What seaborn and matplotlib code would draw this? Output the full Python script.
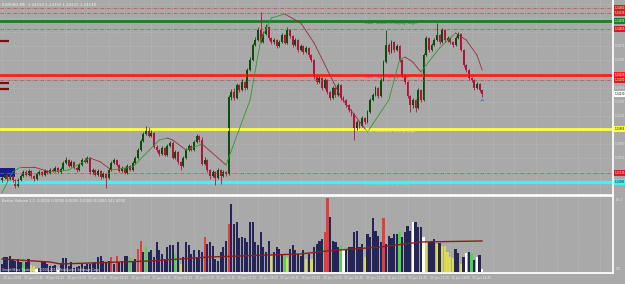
import numpy as np
import pandas as pd
import seaborn as sns
import matplotlib
matplotlib.use("Agg")
import matplotlib.pyplot as plt
from matplotlib.transforms import blended_transform_factory

BG = "#a9a9a9"
UP = "#0b4d0b"
DN = "#b3123a"

sns.set_theme(style="dark", rc={"axes.facecolor": BG, "figure.facecolor": BG})
plt.rcParams['font.family'] = ['DejaVu Sans']

# ---- data ----
title_text = "EURUSD,M5  1.24150 1.24155 1.24115 1.24130"
volume_title = "Better Volume 1.1  0.0000 0.0000 0.0000 0.0000 0.0000 141.0000"
footer_text = "SmoothBars Trader 4, (C) 2001-2014 MetaQuotes Software Corp."

first_open = 1.23700
close = [1.23710, 1.23725, 1.23705, 1.23720, 1.23700, 1.23670, 1.23700, 1.23720, 1.23740, 1.23725,
         1.23745, 1.23720, 1.23705, 1.23730, 1.23740, 1.23725, 1.23745, 1.23735, 1.23750, 1.23745,
         1.23760, 1.23740, 1.23755, 1.23785, 1.23800, 1.23770, 1.23790, 1.23760, 1.23750, 1.23775,
         1.23800, 1.23790, 1.23810, 1.23740, 1.23750, 1.23725, 1.23745, 1.23715, 1.23730, 1.23710,
         1.23750, 1.23785, 1.23800, 1.23775, 1.23745, 1.23760, 1.23735, 1.23770, 1.23750, 1.23785,
         1.23810, 1.23850, 1.23895, 1.23930, 1.23955, 1.23920, 1.23935, 1.23865, 1.23850, 1.23830,
         1.23860, 1.23825, 1.23870, 1.23885, 1.23810, 1.23840, 1.23790, 1.23770, 1.23810, 1.23850,
         1.23870, 1.23850, 1.23890, 1.23920, 1.23900, 1.23780, 1.23800, 1.23750, 1.23720, 1.23740,
         1.23710, 1.23750, 1.23720, 1.23740, 1.23730, 1.24115, 1.24140, 1.24110, 1.24175, 1.24150,
         1.24190, 1.24160, 1.24250, 1.24300, 1.24375, 1.24400, 1.24450, 1.24390, 1.24430, 1.24465,
         1.24410, 1.24390, 1.24400, 1.24370, 1.24390, 1.24425, 1.24385, 1.24450, 1.24420, 1.24375,
         1.24400, 1.24350, 1.24370, 1.24340, 1.24360, 1.24325, 1.24300, 1.24215, 1.24190, 1.24210,
         1.24160, 1.24200, 1.24140, 1.24110, 1.24160, 1.24125, 1.24175, 1.24110, 1.24100, 1.24075,
         1.24050, 1.24030, 1.23960, 1.23990, 1.23970, 1.24010, 1.23990, 1.24040, 1.24100, 1.24125,
         1.24160, 1.24120, 1.24200, 1.24290, 1.24375, 1.24340, 1.24390, 1.24350, 1.24370, 1.24300,
         1.24225, 1.24190, 1.24120, 1.24075, 1.24100, 1.24060, 1.24150, 1.24100, 1.24325, 1.24410,
         1.24350, 1.24375, 1.24400, 1.24425, 1.24390, 1.24450, 1.24400, 1.24410, 1.24390, 1.24375,
         1.24410, 1.24430, 1.24350, 1.24275, 1.24250, 1.24210, 1.24200, 1.24160, 1.24180, 1.24150,
         1.24130]
high = [1.23720, 1.23735, 1.23730, 1.23730, 1.23725, 1.23705, 1.23710, 1.23730, 1.23750, 1.23750,
        1.23755, 1.23750, 1.23725, 1.23740, 1.23750, 1.23745, 1.23755, 1.23750, 1.23760, 1.23760,
        1.23770, 1.23765, 1.23765, 1.23795, 1.23815, 1.23805, 1.23800, 1.23795, 1.23765, 1.23785,
        1.23810, 1.23810, 1.23820, 1.23815, 1.23760, 1.23755, 1.23755, 1.23750, 1.23740, 1.23735,
        1.23760, 1.23795, 1.23810, 1.23805, 1.23780, 1.23770, 1.23765, 1.23780, 1.23775, 1.23795,
        1.23820, 1.23860, 1.23905, 1.23940, 1.23970, 1.23965, 1.23950, 1.23940, 1.23875, 1.23855,
        1.23870, 1.23865, 1.23880, 1.23895, 1.23895, 1.23850, 1.23845, 1.23795, 1.23820, 1.23860,
        1.23880, 1.23875, 1.23900, 1.23930, 1.23925, 1.23915, 1.23815, 1.23805, 1.23755, 1.23750,
        1.23745, 1.23760, 1.23755, 1.23750, 1.23745, 1.24125, 1.24155, 1.24160, 1.24185, 1.24180,
        1.24205, 1.24195, 1.24260, 1.24315, 1.24385, 1.24415, 1.24465, 1.24540, 1.24445, 1.24480,
        1.24470, 1.24415, 1.24410, 1.24405, 1.24400, 1.24435, 1.24430, 1.24465, 1.24455, 1.24425,
        1.24410, 1.24405, 1.24380, 1.24375, 1.24370, 1.24365, 1.24330, 1.24305, 1.24220, 1.24220,
        1.24215, 1.24210, 1.24205, 1.24145, 1.24170, 1.24165, 1.24185, 1.24180, 1.24120, 1.24105,
        1.24080, 1.24055, 1.24035, 1.24000, 1.23995, 1.24020, 1.24015, 1.24050, 1.24110, 1.24135,
        1.24170, 1.24165, 1.24210, 1.24300, 1.24450, 1.24385, 1.24400, 1.24395, 1.24380, 1.24375,
        1.24305, 1.24230, 1.24195, 1.24125, 1.24110, 1.24105, 1.24160, 1.24155, 1.24335, 1.24420,
        1.24415, 1.24385, 1.24410, 1.24485, 1.24430, 1.24460, 1.24455, 1.24420, 1.24415, 1.24395,
        1.24420, 1.24440, 1.24435, 1.24355, 1.24280, 1.24255, 1.24215, 1.24205, 1.24190, 1.24185,
        1.24155]
low = [1.23690, 1.23705, 1.23695, 1.23700, 1.23690, 1.23660, 1.23665, 1.23695, 1.23715, 1.23720,
       1.23720, 1.23710, 1.23695, 1.23700, 1.23725, 1.23720, 1.23720, 1.23730, 1.23730, 1.23740,
       1.23740, 1.23735, 1.23735, 1.23750, 1.23780, 1.23765, 1.23765, 1.23755, 1.23740, 1.23745,
       1.23770, 1.23785, 1.23785, 1.23730, 1.23730, 1.23720, 1.23720, 1.23705, 1.23710, 1.23660,
       1.23705, 1.23745, 1.23780, 1.23770, 1.23740, 1.23740, 1.23730, 1.23730, 1.23745, 1.23745,
       1.23780, 1.23805, 1.23845, 1.23890, 1.23925, 1.23915, 1.23915, 1.23860, 1.23840, 1.23820,
       1.23825, 1.23820, 1.23820, 1.23865, 1.23805, 1.23805, 1.23780, 1.23750, 1.23765, 1.23805,
       1.23845, 1.23845, 1.23845, 1.23885, 1.23890, 1.23775, 1.23775, 1.23740, 1.23705, 1.23715,
       1.23675, 1.23705, 1.23680, 1.23715, 1.23720, 1.23725, 1.24100, 1.24100, 1.24105, 1.24140,
       1.24145, 1.24150, 1.24155, 1.24245, 1.24295, 1.24370, 1.24395, 1.24385, 1.24385, 1.24425,
       1.24400, 1.24380, 1.24380, 1.24360, 1.24365, 1.24385, 1.24380, 1.24380, 1.24410, 1.24365,
       1.24370, 1.24340, 1.24345, 1.24330, 1.24335, 1.24315, 1.24290, 1.24205, 1.24180, 1.24185,
       1.24150, 1.24155, 1.24130, 1.24100, 1.24105, 1.24115, 1.24120, 1.24100, 1.24090, 1.24065,
       1.24040, 1.24020, 1.23900, 1.23950, 1.23960, 1.23965, 1.23980, 1.23985, 1.24035, 1.24095,
       1.24120, 1.24110, 1.24115, 1.24195, 1.24285, 1.24330, 1.24335, 1.24340, 1.24345, 1.24290,
       1.24215, 1.24180, 1.24110, 1.24040, 1.24060, 1.24040, 1.24055, 1.24090, 1.24095, 1.24320,
       1.24340, 1.24345, 1.24370, 1.24395, 1.24380, 1.24385, 1.24390, 1.24390, 1.24380, 1.24365,
       1.24370, 1.24405, 1.24345, 1.24265, 1.24240, 1.24200, 1.24190, 1.24150, 1.24155, 1.24140,
       1.24115]

volume = [102, 191, 191, 203, 165, 140, 165, 127, 178, 127, 165, 89, 76, 38, 51, 127, 127, 102,
          76, 76, 89, 25, 114, 178, 178, 76, 127, 51, 64, 76, 114, 76, 102, 102, 114, 127, 191, 203,
          140, 127, 140, 191, 102, 203, 127, 140, 203, 203, 191, 127, 165, 292, 394, 254, 318, 254,
          279, 191, 381, 279, 229, 165, 318, 343, 343, 229, 381, 102, 191, 381, 343, 229, 279, 191,
          279, 254, 445, 356,
          381, 330, 165, 140, 254, 318, 394, 610, 864, 610, 635, 432, 445, 432, 381, 635, 635,
          381, 343, 508, 318, 254, 394, 203, 254, 318, 292, 229, 229, 178, 292, 343, 279, 229, 203,
          279, 165, 229, 165, 318, 356, 394, 419, 508, 940, 699, 394, 381, 318, 343, 292, 279,
          318, 318, 508, 521, 318, 356, 191, 483, 445, 686, 521, 457, 381, 686, 356, 457, 432, 483,
          483, 508, 445, 508, 584, 521, 635, 635, 572,
          572, 445, 381, 381, 394, 419, 356, 368, 330, 330, 254, 191, 178, 292, 241, 102, 191, 241,
          254, 241, 152, 191, 216, 38]
# n = neutral, r = climax, g = churn, y = low volume, w = low volume churn
vol_kind = ("nnnnnnnngnnyywnnnnnnnwnnnnnnnnnnnnnnnnnnnrnrnnnngnnrrngnnnnnnnnnngnynnnnnnnnrn"
            "nnnnnnnrnnnnnnnnnnnnnnnynnnngynnnnnnynynnnnrrnnnngwnnnnnnnynnnnnnrnnnnngnnnnwnn"
            "nwynnnynyyyyynnynwngnwnw")

ma_bar = [0, 4, 7, 12, 18, 25, 33, 37, 41, 49, 59, 62, 64, 69, 75, 84, 93, 97, 101, 106,
          112, 117, 122, 127, 137, 145, 149, 151, 154, 157, 164, 170, 174, 178, 180]
ma_price = [1.23635, 1.23740, 1.23765, 1.23765, 1.23740, 1.23750, 1.23810, 1.23790, 1.23750,
            1.23765, 1.23900, 1.23910, 1.23900, 1.23850, 1.23880, 1.23775, 1.24100, 1.24400,
            1.24510, 1.24530, 1.24485, 1.24385, 1.24250, 1.24115, 1.23940, 1.24100, 1.24300,
            1.24315, 1.24290, 1.24240, 1.24360, 1.24435, 1.24400, 1.24325, 1.24250]

vma_bar = [0, 18, 22, 33, 56, 78, 89, 112, 122, 142, 157, 180]
vma_value = [165, 127, 102, 114, 140, 191, 203, 229, 267, 318, 381, 394]

levels = {"green": 1.24495, "red": 1.24225, "yellow": 1.23955, "cyan": 1.23690}
level_notes = {"green": "DBBP (bottom of buying range)", "red": "DBSP (top of selling range)",
               "yellow": "SBSP (bottom of selling range)", "cyan": "SBBP (top of buying range)"}
dashed_levels = [1.24560, 1.24535, 1.24455, 1.24200, 1.23735]
tag_prices = [1.24395, 1.24185, 1.24155]
price_ticks = [1.23670, 1.23740, 1.23810, 1.23880, 1.23950, 1.24020, 1.24090, 1.24160,
               1.24230, 1.24300, 1.24370, 1.24440, 1.24510, 1.24580]
time_labels = ["30 Jan 2018", "30 Jan 00:45", "30 Jan 01:25", "30 Jan 02:05", "30 Jan 02:45",
               "30 Jan 03:25", "30 Jan 04:05", "30 Jan 04:45", "30 Jan 05:25", "30 Jan 06:05",
               "30 Jan 06:45", "30 Jan 07:25", "30 Jan 08:05", "30 Jan 08:45", "30 Jan 09:25",
               "30 Jan 10:05", "30 Jan 10:45", "30 Jan 11:25", "30 Jan 12:05", "30 Jan 12:45",
               "30 Jan 13:25", "30 Jan 14:05", "30 Jan 14:45"]

df = pd.DataFrame({"bar": np.arange(len(close)), "open": [first_open] + close[:-1],
                   "high": high, "low": low, "close": close,
                   "volume": volume, "kind": list(vol_kind)})

level_colors = {"green": "#1e7d1e", "red": "#ff1e1e", "yellow": "#ffff3c", "cyan": "#3cf5f5"}
kind_colors = {"n": "#1c1c62", "r": "#ff2222", "g": "#33ee33", "y": "#f2f23a", "w": "#ffffff"}
LABEL_FS = 1.85

fig = plt.figure(figsize=(6.25, 2.84), dpi=100)
ax = fig.add_axes([0, 0.3134, 0.9808, 0.6866])
axv = fig.add_axes([0, 0.0387, 0.9808, 0.2711])
xmin, xmax = -0.7, 229

for a in (ax, axv):
    a.set_facecolor(BG)
    a.set_xlim(xmin, xmax)
    for s in a.spines.values():
        s.set_visible(False)

# ---- price panel ----
ax.set_ylim(1.23625, 1.24600)
ax.set_xticks(np.arange(0, 230, 8))
ax.tick_params(axis="x", labelbottom=False, length=0)
ax.grid(axis="x", color="#c4c4c4", linestyle=(0, (1, 2)), linewidth=0.5)

# grey scale labels, skipping those hidden behind the coloured level tags
tagged = list(levels.values()) + dashed_levels + [close[-1]]
shown_ticks = [p for p in price_ticks if min(abs(p - q) for q in tagged) > 0.00025]
ax.set_yticks(price_ticks)
ax.grid(axis="y", color="#c4c4c4", linestyle=(0, (1, 2)), linewidth=0.5)
ax.set_yticklabels([])
ax.tick_params(axis="y", length=0)
tr = blended_transform_factory(ax.transAxes, ax.transData)
for p in shown_ticks:
    ax.text(1.002, p, f"{p:.5f}", transform=tr, fontsize=LABEL_FS, va="center", ha="left",
            color="#e6e6e6")

ax.spines["right"].set_visible(True)
ax.spines["right"].set_color("white")
ax.spines["bottom"].set_visible(True)
ax.spines["bottom"].set_color("white")
ax.spines["bottom"].set_linewidth(1.2)

for p in dashed_levels:
    ax.axhline(p, color="#b45a5a", linestyle=(0, (4, 1.5, 1, 1.5)), linewidth=0.6)
for name, p in levels.items():
    ax.axhline(p, color=level_colors[name], linewidth=2.0 if name != "cyan" else 2.4)
    ax.text(136, p, level_notes[name], color=level_colors[name], fontsize=2.4,
            va="top", ha="left")

ax.hlines(tag_prices, xmin, 2.5, color="#7a0c0c", linewidth=1.6)
ax.fill_between([xmin, 5], 1.23715, 1.23760, color="#1a1a8c", linewidth=0)

up = df["close"] >= df["open"]
cols = np.where(up, UP, DN)
ax.vlines(df["bar"], df["low"], df["high"], color=cols, linewidth=0.6)
ax.bar(df["bar"], (df["close"] - df["open"]).abs().clip(lower=0.00002),
       bottom=df[["open", "close"]].min(axis=1), width=0.72, color=cols, linewidth=0)

for i in range(len(ma_bar) - 1):
    c = "#2f9a2f" if ma_price[i + 1] > ma_price[i] else "#a0283c"
    ax.plot(ma_bar[i:i + 2], ma_price[i:i + 2], color=c, linewidth=0.6)

ax.annotate("^", xy=(df["bar"].iloc[-1], df["low"].iloc[-1]), xytext=(0, -4.5),
            textcoords="offset points", color="#1a3cff", fontsize=4, ha="center",
            fontweight="bold")

tag_kw = dict(transform=tr, fontsize=LABEL_FS, va="center", ha="left")
for name, p in levels.items():
    ax.text(1.002, p, f"{p:.5f}", color="black" if name in ("yellow", "cyan") else "white",
            bbox=dict(boxstyle="square,pad=0.2", fc=level_colors[name], ec="none"), **tag_kw)
for p in dashed_levels:
    ax.text(1.002, p, f"{p:.5f}", color="white",
            bbox=dict(boxstyle="square,pad=0.2", fc="#d01e1e", ec="none"), **tag_kw)
ax.text(1.002, close[-1], f"{close[-1]:.5f}", color="black",
        bbox=dict(boxstyle="square,pad=0.2", fc="white", ec="none"), **tag_kw)

ax.text(0.004, 0.985, title_text, transform=ax.transAxes, fontsize=2.8, color="#f0f0f0",
        va="top", ha="left")

# ---- volume panel ----
sns.barplot(data=df, x="bar", y="volume", hue="kind", palette=kind_colors, native_scale=True,
            dodge=False, width=0.8, legend=False, errorbar=None, linewidth=0, ax=axv)
axv.plot(vma_bar, vma_value, color="#8a1e1e", linewidth=1.0)
axv.set_xlim(xmin, xmax)
axv.set_ylim(-13, 965)
axv.set_xlabel("")
axv.set_ylabel("")
axv.set_yticks([])
axv.set_xticks(np.arange(0, 230, 8))
axv.grid(axis="x", color="#c4c4c4", linestyle=(0, (1, 2)), linewidth=0.5)
axv.set_xticklabels([])
axv.tick_params(axis="x", length=1.2, colors="#ececec")
for i, lab in enumerate(time_labels):
    axv.annotate(lab, xy=(8 * i, 0), xycoords=("data", "axes fraction"), xytext=(0.5, -2),
                 textcoords="offset points", fontsize=2.2, color="#ececec", ha="left", va="top")
for side in ("right", "top", "bottom"):
    axv.spines[side].set_visible(True)
    axv.spines[side].set_color("white")
axv.spines["top"].set_linewidth(1.2)
axv.text(0.004, 0.965, volume_title, transform=axv.transAxes, fontsize=2.6, color="#f0f0f0",
         va="top", ha="left")
axv.text(0.004, 0.015, footer_text, transform=axv.transAxes, fontsize=2.2, color="#f0f0f0",
         va="bottom", ha="left")
axv.text(1.004, 0.97, "941.2", transform=axv.transAxes, fontsize=LABEL_FS, color="#e6e6e6",
         va="top", ha="left")
axv.text(1.004, 0.03, "0.00", transform=axv.transAxes, fontsize=LABEL_FS, color="#e6e6e6",
         va="bottom", ha="left")

fig.savefig("out.png", dpi=100, facecolor=BG)
